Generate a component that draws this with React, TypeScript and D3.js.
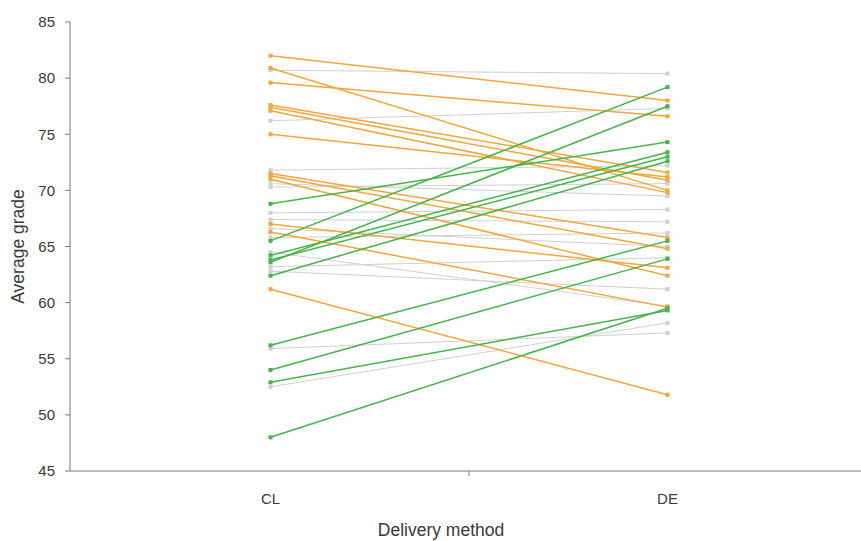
import React from "react";
import * as d3 from "d3";

const categories = ["CL", "DE"];
const yTicks = [45, 50, 55, 60, 65, 70, 75, 80, 85];

// dropped grade (orange)
const declinedCL = [82.0, 80.9, 79.6, 77.6, 77.4, 77.1, 75.0, 71.5, 71.3, 71.0, 67.0, 66.3, 61.2];
const declinedDE = [78.0, 70.0, 76.6, 71.6, 70.9, 69.8, 71.2, 65.8, 64.8, 62.4, 63.1, 59.6, 51.8];

// improved grade (green)
const improvedCL = [48.0, 52.9, 54.0, 56.2, 62.4, 63.6, 63.8, 64.2, 65.5, 68.8];
const improvedDE = [59.5, 59.3, 63.9, 65.5, 72.6, 77.5, 73.0, 73.4, 79.2, 74.3];

// little change (gray)
const steadyCL = [80.7, 76.2, 71.8, 70.6, 70.3, 68.0, 67.4, 66.6, 65.8, 64.5, 63.2, 62.8, 55.9, 52.5];
const steadyDE = [80.4, 77.3, 72.2, 69.5, 70.6, 68.3, 67.2, 65.0, 66.2, 59.7, 64.0, 61.2, 57.3, 58.2];

const groups = [
  { cl: steadyCL, de: steadyDE, color: "#d0d0d0", width: 1 },
  { cl: declinedCL, de: declinedDE, color: "#f4a63a", width: 1.5 },
  { cl: improvedCL, de: improvedDE, color: "#44b54a", width: 1.5 },
];

const W = 861;
const H = 541;
const font = "'Liberation Sans', Arial, sans-serif";

export default function App() {
  const x = d3.scaleBand().domain(categories).range([72, 866]);
  const y = d3.scaleLinear().domain([45, 85]).range([471, 22]);
  const cx = (c: string) => (x(c) as number) + x.bandwidth() / 2;
  const axisColor = "#7a7a7a";
  const textColor = "#3a3a3a";

  return (
    <svg width={W} height={H} style={{ position: "fixed", left: 0, top: 0, background: "#fff" }}>
      {/* y axis */}
      <line x1={70} x2={70} y1={y(85)} y2={y(45)} stroke={axisColor} strokeWidth={1} />
      {yTicks.map((t) => (
        <g key={t}>
          <line x1={65} x2={70} y1={y(t)} y2={y(t)} stroke={axisColor} />
          <text x={55} y={y(t)} dy="0.35em" textAnchor="end" fontSize={15} fontFamily={font} fill={textColor}>
            {t}
          </text>
        </g>
      ))}
      <text
        transform={`translate(24,${(y(45) + y(85)) / 2}) rotate(-90)`}
        textAnchor="middle"
        fontSize={17.5}
        fontFamily={font}
        fill={textColor}
      >
        Average grade
      </text>

      {/* x axis */}
      <line x1={70} x2={W} y1={y(45)} y2={y(45)} stroke={axisColor} strokeWidth={1.2} />
      <line x1={x("DE") as number} x2={x("DE") as number} y1={y(45)} y2={y(45) + 5} stroke={axisColor} />
      {categories.map((c) => (
        <text key={c} x={cx(c)} y={504} textAnchor="middle" fontSize={15} fontFamily={font} fill={textColor}>
          {c}
        </text>
      ))}
      <text x={441} y={536} textAnchor="middle" fontSize={17.5} fontFamily={font} fill={textColor}>
        Delivery method
      </text>

      {/* slopes */}
      {groups.map((g, gi) => (
        <g key={gi}>
          {g.cl.map((v, i) => (
            <g key={i}>
              <line
                x1={cx("CL")}
                y1={y(v)}
                x2={cx("DE")}
                y2={y(g.de[i])}
                stroke={g.color}
                strokeWidth={g.width}
              />
              <rect x={cx("CL") - 2} y={y(v) - 2} width={4} height={4} fill={g.color} />
              <rect x={cx("DE") - 2} y={y(g.de[i]) - 2} width={4} height={4} fill={g.color} />
            </g>
          ))}
        </g>
      ))}
    </svg>
  );
}
